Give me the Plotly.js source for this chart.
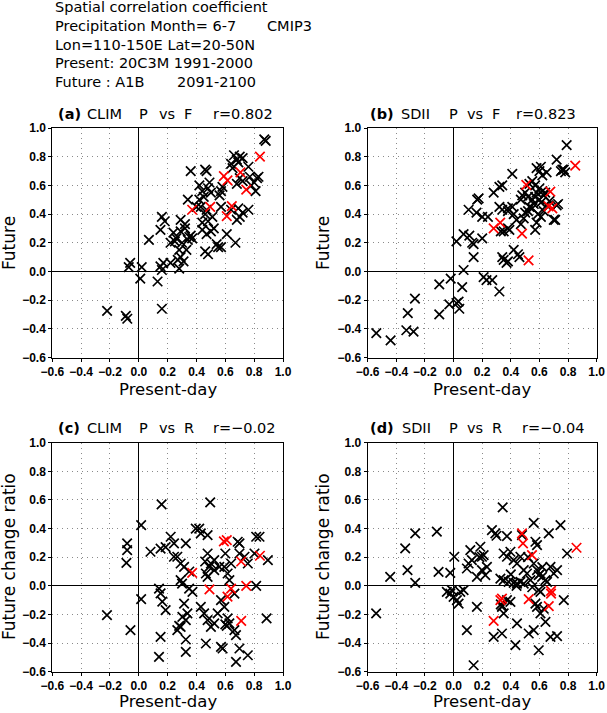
<!DOCTYPE html>
<html>
<head>
<meta charset="utf-8">
<script src="https://cdn.plot.ly/plotly-3.0.1.min.js"></script>
<style>html,body{margin:0;padding:0;background:#fff;}#chart{width:607px;height:713px;}</style>
</head>
<body>
<div id="chart"></div>
<script>
// ---------- DATA ----------
// (a) CLIM  P vs F : present-day vs future spatial correlation
var climPF_blackX = [0.87,0.88,0.66,0.68,0.70,0.72,0.64,0.69,0.76,0.65,0.77,0.82,0.80,0.83,0.81,0.78,0.68,0.70,0.72,0.36,0.46,0.47,0.42,0.49,0.50,0.45,0.42,0.34,0.48,0.44,0.57,0.58,0.56,0.43,0.47,0.51,0.48,0.44,0.40,0.46,0.57,0.64,0.69,0.76,0.70,0.68,0.72,0.52,0.44,0.47,0.61,0.50,0.54,0.57,0.46,0.48,0.67,0.55,0.29,0.32,0.16,0.18,0.15,0.24,0.29,0.26,0.35,0.36,0.34,0.37,0.30,0.22,0.28,0.29,0.27,0.31,0.17,0.28,0.22,0.15,0.16,0.25,0.32,0.33,0.07,-0.06,-0.07,0.02,0.01,0.13,0.16,-0.22,-0.09,-0.08];
var climPF_blackY = [0.92,0.91,0.81,0.78,0.80,0.79,0.75,0.76,0.73,0.72,0.66,0.65,0.62,0.66,0.56,0.60,0.61,0.65,0.63,0.70,0.71,0.70,0.60,0.62,0.55,0.52,0.50,0.50,0.58,0.56,0.56,0.59,0.53,0.45,0.43,0.38,0.35,0.34,0.45,0.40,0.45,0.43,0.44,0.43,0.38,0.36,0.41,0.30,0.29,0.26,0.26,0.28,0.19,0.17,0.14,0.12,0.20,0.17,0.36,0.33,0.38,0.35,0.29,0.27,0.28,0.23,0.24,0.25,0.22,0.23,0.20,0.20,0.15,0.10,0.08,0.07,0.06,0.02,0.06,0.035,0.01,0.21,0.30,0.15,0.22,0.06,0.03,0.03,-0.05,-0.07,-0.26,-0.275,-0.31,-0.33];
var climPF_redX = [0.84,0.59,0.615,0.705,0.745,0.37,0.495,0.645,0.61];
var climPF_redY = [0.80,0.665,0.635,0.69,0.57,0.43,0.45,0.455,0.385];

// (b) SDII  P vs F
var sdiiPF_blackX = [0.79,0.72,0.77,0.75,0.58,0.61,0.60,0.65,0.62,0.55,0.53,0.57,0.60,0.62,0.63,0.64,0.58,0.55,0.57,0.52,0.50,0.47,0.48,0.60,0.61,0.65,0.67,0.72,0.70,0.56,0.53,0.52,0.50,0.55,0.59,0.63,0.61,0.58,0.57,0.49,0.47,0.41,0.38,0.38,0.41,0.28,0.32,0.34,0.175,0.165,0.105,0.16,0.20,0.24,0.32,0.34,0.35,0.42,0.44,0.39,0.38,0.33,0.07,0.02,0.11,0.13,0.14,0.14,0.20,0.34,0.35,0.37,0.42,0.45,0.46,0.38,0.07,0.21,0.23,0.27,0.32,-0.10,-0.02,0.06,-0.03,0.02,0.04,0.035,-0.10,-0.27,-0.32,-0.28,-0.33,-0.54,-0.44,0.76,0.78,0.71,0.73];
var sdiiPF_blackY = [0.88,0.78,0.71,0.70,0.72,0.73,0.70,0.69,0.67,0.63,0.61,0.60,0.58,0.56,0.53,0.55,0.55,0.50,0.52,0.52,0.55,0.50,0.53,0.50,0.48,0.46,0.49,0.46,0.36,0.47,0.45,0.42,0.41,0.44,0.40,0.42,0.38,0.34,0.29,0.37,0.33,0.45,0.42,0.44,0.68,0.55,0.59,0.60,0.51,0.50,0.43,0.41,0.38,0.38,0.45,0.43,0.28,0.40,0.36,0.29,0.30,0.28,0.26,0.21,0.25,0.20,0.19,0.10,0.23,0.10,0.08,0.06,0.15,0.12,0.10,0.07,0.01,-0.04,-0.06,-0.06,-0.14,-0.09,-0.05,-0.11,-0.23,-0.22,-0.26,-0.21,-0.30,-0.19,-0.29,-0.42,-0.41,-0.43,-0.48,0.71,0.69,0.36,0.47];
var sdiiPF_redX = [0.85,0.508,0.676,0.664,0.69,0.28,0.326,0.478,0.524];
var sdiiPF_redY = [0.737,0.604,0.557,0.453,0.44,0.30,0.34,0.263,0.077];

// (c) CLIM  P vs R : present-day vs future change ratio
var climPR_blackX = [0.495,0.158,0.016,0.395,0.419,-0.081,-0.081,-0.086,0.081,0.151,0.186,0.221,0.244,0.326,0.267,0.29,0.244,0.314,0.29,0.30,0.43,0.477,0.477,0.50,0.488,0.465,0.477,0.523,0.558,0.593,0.616,0.628,0.64,0.523,0.686,0.698,0.698,0.733,0.756,0.802,0.814,0.837,0.814,0.895,0.886,0.14,0.151,0.163,0.186,0.016,-0.221,-0.058,0.151,0.14,0.349,0.372,0.314,0.337,0.302,0.326,0.29,0.267,0.326,0.326,0.465,0.43,0.453,0.477,0.50,0.523,0.547,0.57,0.593,0.616,0.628,0.663,0.663,0.57,0.581,0.674,0.698,0.756,0.674,0.60,0.46,0.35,0.28,0.60,0.61];
var climPR_blackY = [0.583,0.569,0.424,0.40,0.40,0.296,0.249,0.161,0.238,0.26,0.27,0.343,0.296,0.296,0.203,0.156,0.203,0.133,0.04,0.016,0.366,0.354,0.226,0.156,0.133,0.086,0.063,0.179,0.133,0.133,0.086,0.04,0.156,0.11,0.308,0.296,0.226,0.203,0.156,0.226,0.343,0.343,0.0,0.18,-0.228,-0.019,-0.053,-0.11,-0.17,-0.093,-0.205,-0.31,-0.357,-0.497,-0.019,-0.042,-0.124,-0.193,-0.217,-0.24,-0.287,-0.31,-0.375,-0.461,-0.403,-0.147,-0.193,-0.24,-0.287,-0.263,-0.193,-0.10,-0.147,-0.228,-0.263,-0.31,-0.054,-0.427,-0.438,-0.345,-0.438,-0.485,-0.531,0.226,0.17,0.10,-0.28,-0.27,-0.28];
var climPR_redX = [0.59,0.61,0.71,0.84,0.37,0.49,0.64,0.615,0.745,0.71];
var climPR_redY = [0.31,0.32,0.17,0.21,0.09,-0.025,-0.02,-0.075,0.0,-0.245];

// (d) SDII  P vs R
var sdiiPR_blackX = [0.343,0.56,0.747,-0.117,-0.268,-0.338,-0.322,-0.268,-0.443,-0.541,-0.105,-0.023,0.005,0.117,0.187,0.268,0.292,0.373,0.478,0.572,0.583,0.665,0.105,0.128,0.198,0.21,0.198,0.233,0.163,0.093,0.222,0.35,0.373,0.397,0.42,0.443,0.467,0.49,0.513,0.537,0.56,0.583,0.327,0.35,0.385,0.42,0.443,0.467,0.49,0.607,0.595,0.618,0.642,0.653,0.677,0.70,0.723,-0.047,-0.023,0.0,0.023,0.035,-0.012,0.047,0.07,0.163,0.093,0.14,0.28,0.338,0.338,0.35,0.373,0.397,0.443,0.432,0.525,0.56,0.607,0.642,0.595,0.572,0.583,0.677,0.723,0.77,0.793,0.595,0.607,0.30,0.18,0.40,0.44,0.62,0.52,0.55,0.63,0.33,0.34];
var sdiiPR_blackY = [0.548,0.44,0.424,0.378,0.366,0.261,0.11,0.021,0.063,-0.193,0.098,0.091,0.203,0.25,0.273,0.389,0.366,0.347,0.354,0.308,0.284,0.366,0.156,0.18,0.203,0.214,0.11,0.133,0.063,0.121,0.075,0.226,0.203,0.238,0.18,0.156,0.203,0.11,0.086,0.04,0.156,0.11,0.051,0.04,0.028,0.021,0.016,0.028,0.016,0.086,0.075,0.063,0.04,0.028,0.133,0.086,0.11,-0.042,-0.054,-0.077,-0.10,-0.124,-0.03,-0.042,-0.03,-0.147,-0.31,-0.555,-0.357,-0.333,-0.147,-0.193,-0.10,-0.112,-0.263,-0.415,-0.333,-0.31,-0.193,-0.252,-0.45,-0.124,-0.147,-0.357,-0.352,-0.10,0.226,-0.03,-0.042,0.35,0.20,0.08,0.0,0.13,0.20,-0.01,-0.16,-0.13,-0.14];
var sdiiPR_redX = [0.859,0.478,0.485,0.548,0.525,0.338,0.327,0.28,0.681,0.681,0.665];
var sdiiPR_redY = [0.266,0.366,0.296,0.214,-0.093,-0.089,-0.10,-0.245,-0.035,-0.054,-0.142];

var tickVals = [-0.6,-0.4,-0.2,0.0,0.2,0.4,0.6,0.8,1.0];
var tickLabels = ["\u22120.6","\u22120.4","\u22120.2","0.0","0.2","0.4","0.6","0.8","1.0"];
var headerLines = ["Spatial correlation coefficient","Precipitation Month= 6-7","Lon=110-150E Lat=20-50N","Present: 20C3M 1991-2000","Future : A1B"];

// ---------- LAYOUT HELPERS ----------
var W = 607, H = 713;
function px(x){return x/W;}
function py(y){return 1 - y/H;}
var TXT = "DejaVu Sans, Liberation Sans, Arial, sans-serif";
var TICKF = {family:"Liberation Sans, Arial, sans-serif", size:12, color:"#000"};

function axis(dom, anchor){
  return {domain:dom, anchor:anchor, range:[-0.6,1.0], tickvals:tickVals,
    ticktext:tickLabels.map(function(s){return "<b>"+s+"</b>";}),
    showgrid:true, gridcolor:"#8a8a8a", griddash:"1px,4px", gridwidth:1,
    zeroline:true, zerolinecolor:"#000", zerolinewidth:1.3,
    showline:true, mirror:true, linecolor:"#000", linewidth:1,
    ticks:"outside", ticklen:3, tickcolor:"#000", tickwidth:1,
    tickfont:TICKF, fixedrange:true};
}
var xL = [px(52.3), px(283)], xR = [px(367.7), px(596.7)];
var yT = [py(357.5), py(128)], yB = [py(671.7), py(442.7)];

function pts(x, y, color, xa, ya){
  return {type:"scatter", mode:"markers", x:x, y:y, xaxis:xa, yaxis:ya, hoverinfo:"skip",
    marker:{symbol:"x-thin-open", size:9.5, color:color, line:{color:color, width:1.7}}};
}
var data = [
  pts(climPF_blackX, climPF_blackY, "#000", "x", "y"),
  pts(climPF_redX, climPF_redY, "#ff0000", "x", "y"),
  pts(sdiiPF_blackX, sdiiPF_blackY, "#000", "x2", "y2"),
  pts(sdiiPF_redX, sdiiPF_redY, "#ff0000", "x2", "y2"),
  pts(climPR_blackX, climPR_blackY, "#000", "x3", "y3"),
  pts(climPR_redX, climPR_redY, "#ff0000", "x3", "y3"),
  pts(sdiiPR_blackX, sdiiPR_blackY, "#000", "x4", "y4"),
  pts(sdiiPR_redX, sdiiPR_redY, "#ff0000", "x4", "y4")
];

var ann = [];
function txt(t, x, y, size){
  ann.push({text:t, xref:"paper", yref:"paper", x:px(x), y:py(y), xanchor:"left", yanchor:"middle",
    showarrow:false, font:{family:TXT, size:size, color:"#000"}});
}
// header
var hy = [7.5, 26, 45, 63.5, 82];
for(var i=0;i<headerLines.length;i++){ txt(headerLines[i], 53, hy[i], 14.5); }
txt("CMIP3", 265, hy[1], 14.5);
txt("2091-2100", 175, hy[4], 14.5);

// panel titles
function ptitle(x0, y, lab, kind, pv, rtxt, xs){
  txt("<b>"+lab+"</b>", x0+xs[0], y, 14.5);
  txt(kind, x0+xs[1], y, 14.5);
  txt("P", x0+xs[2], y, 14.5);
  txt("vs", x0+xs[3], y, 14.5);
  txt(pv, x0+xs[4], y, 14.5);
  txt(rtxt, x0+xs[5], y, 14.5);
}
var offL = [3.5, 32.7, 84.7, 104.7, 129.7, 158.7];
var offR = [0.3, 31, 79.3, 97.3, 122.3, 146.3];
ptitle(52.3, 113.5, "(a)", "CLIM", "F", "r=0.802", offL);
ptitle(367.7, 113.5, "(b)", "SDII", "F", "r=0.823", offR);
ptitle(52.3, 428, "(c)", "CLIM", "R", "r=\u22120.02", offL);
ptitle(367.7, 428, "(d)", "SDII", "R", "r=\u22120.04", [0.3, 32, 79.3, 97.3, 122.3, 152.3]);

// axis titles
function xtitle(cx, y){ ann.push({text:"Present-day", xref:"paper", yref:"paper", x:px(cx), y:py(y), xanchor:"center", yanchor:"middle", showarrow:false, font:{family:TXT, size:16.5, color:"#000"}}); }
function ytitle(t, cx, cy){ ann.push({text:t, xref:"paper", yref:"paper", x:px(cx), y:py(cy), xanchor:"center", yanchor:"middle", textangle:-90, showarrow:false, font:{family:TXT, size:17, color:"#000"}}); }
xtitle(167.6, 389); xtitle(482.2, 389);
xtitle(167.6, 701.5); xtitle(482.2, 701.5);
ytitle("Future", 9, 243); ytitle("Future", 323, 243);
ytitle("Future change ratio", 9, 557); ytitle("Future change ratio", 323, 557);

var layout = {
  width:W, height:H, margin:{l:0,r:0,t:0,b:0}, paper_bgcolor:"#fff", plot_bgcolor:"#fff",
  showlegend:false,
  xaxis:axis(xL,"y"), yaxis:axis(yT,"x"),
  xaxis2:axis(xR,"y2"), yaxis2:axis(yT,"x2"),
  xaxis3:axis(xL,"y3"), yaxis3:axis(yB,"x3"),
  xaxis4:axis(xR,"y4"), yaxis4:axis(yB,"x4"),
  annotations:ann
};
Plotly.newPlot("chart", data, layout, {staticPlot:true, displayModeBar:false});
</script>
</body>
</html>
